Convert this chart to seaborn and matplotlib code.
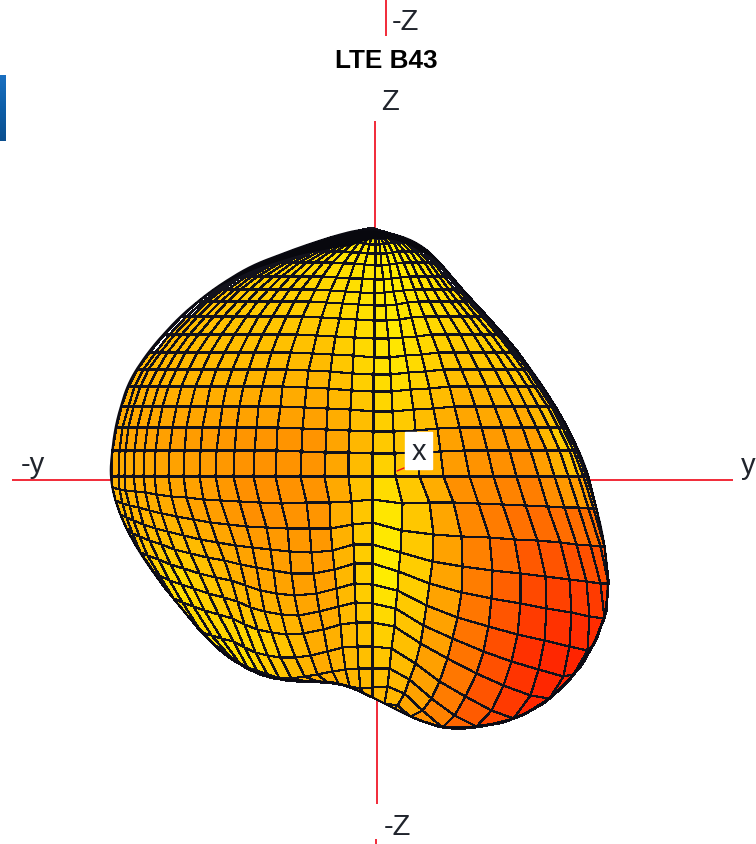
import numpy as np
import matplotlib
matplotlib.use("Agg")
import matplotlib.pyplot as plt
import seaborn as sns

# Surface silhouette (pixels)
outline_x = [375,417,440,460,487,510,533,553,570,587,593,602,608,607,593,573,547,510,473,447,423,400,377,340,300,273,243,217,190,160,137,120,110,110,115,128,150,180,213,250,300,340,367]
outline_y = [230,242,263,288,317,343,373,403,433,470,497,530,573,613,647,677,703,722,728,730,723,713,700,683,682,680,668,650,620,583,550,517,483,470,427,383,350,317,290,267,248,235,229]
# Mesh lines read along the central row and column (pixels from the centre)
meridians_left = [24,48,72,97,119,139,157,174,190,205,219,230,240,249,255,262]
meridians_right = [23,47,71,96,120,143,165,181,195,205,210,213,214.5,215]
rows_up = [26,49,70,90,107,124,142,160,175,187,200,214,225,234,240,248]
rows_down = [21,43,63,81,100,118,136,158,178,196,216,222]
# Dark crowded band along the upper limb
band_x = [215,240,270,300,330,350,372,395,420,440]
band_depth = [0,3,5,7,11,14,9,5,6,0]
# Colour level of the surface (0 yellow, 1 red)
level_x = [110,180,250,320,390,460,530,570,610]
level_y = [230,300,370,440,510,580,650,730]
levels = [
 [.3,.3,.2,.1,.03,.1,.1,.1,.1],
 [.3,.3,.22,.18,.04,.15,.1,.1,.1],
 [.35,.32,.32,.32,.06,.28,.2,.05,.05],
 [.42,.48,.52,.52,.2,.5,.5,.1,.1],
 [.3,.42,.55,.52,.05,.55,.65,.62,.6],
 [.2,.12,.42,.5,.0,.55,.8,.85,.85],
 [.15,.1,.1,.4,.2,.62,.95,1,1],
 [.3,.3,.3,.4,.4,.72,1,1,1],
]
cmap_colors = ["#fff200","#ffc400","#ff9a00","#ff5a00","#ff2400"]

cx, cy = 372.0, 477.0
spine_u = 0.107

sns.set_theme(style="white")
plt.rcParams['font.family'] = ['Liberation Sans', 'DejaVu Sans']
cmap = sns.blend_palette(cmap_colors, as_cmap=True)

fig = plt.figure(figsize=(7.56, 8.45), dpi=100)
ax = fig.add_axes([0, 0, 1, 1])
ax.set_xlim(0, 756)
ax.set_ylim(845, 0)
ax.axis("off")

# red axes
red = "#f01020"
for xs, ys in [((386,386),(0,37)), ((375,375),(122,240)), ((377,377),(695,805)),
               ((12,115),(481,481)), ((580,733),(481,481)), ((376,376),(840,845))]:
    ax.plot(xs, ys, color=red, lw=1.25, zorder=1, solid_capstyle="butt")

# smooth the silhouette for drawing and for the limits
px0 = np.array(outline_x+outline_x[:1], float)
py0 = np.array(outline_y+outline_y[:1], float)
arc = np.r_[0, np.cumsum(np.hypot(np.diff(px0), np.diff(py0)))]
sn = np.linspace(0, arc[-1], 721)[:-1]
dx = np.interp(sn, arc, px0); dy = np.interp(sn, arc, py0)
win = 17
ker = np.ones(win)/win
def circ(v):
    return np.convolve(np.r_[v[-win:], v, v[:win]], ker, mode="same")[win:-win]
ox_all, oy_all = circ(dx), circ(dy)

ox, oy = ox_all-cx, oy_all-cy
oth = np.arctan2(oy, ox)
orr = np.hypot(ox, oy)
order = np.argsort(oth)
oth, orr = oth[order], orr[order]
def radius(t):
    return np.interp(t, oth, orr, period=2*np.pi)

# silhouette limits per scan line for the upper half
up_r = (oy_all <= cy+1) & (ox_all >= cx)
up_l = (oy_all <= cy+7) & (ox_all < cx)
ri = np.argsort(oy_all[up_r]); li = np.argsort(oy_all[up_l])
def lim_r(y):
    return np.interp(y, oy_all[up_r][ri], ox_all[up_r][ri])
def lim_l(y):
    return np.interp(y, oy_all[up_l][li], ox_all[up_l][li])

a = np.r_[-np.array(meridians_left[::-1])/262.0, 0, np.array(meridians_right)/215.0]
b = np.r_[-np.array(rows_up[::-1])/248.0, 0, np.array(rows_down)/222.0]
A, B = np.meshgrid(a, b)
U = A*np.sqrt(np.clip(1-(0.9*B)**2, 0, 1))
V = B.copy()
rho0 = np.minimum(np.hypot(U, V), 1.0)

# the lower half dips toward the lobe on both sides of the spine
d = U - spine_u
t = np.abs(d)
g = np.where(d > 0, 0.58*t, 0.9*t*(1-1.4*t))
V2 = np.where(V > 0, V + V*g, V)
rho2 = np.hypot(U, V2)
# on the left the limb keeps its place
shrink = (V > 0) & (g < 0) & (rho2 > 1e-6)
U2 = np.where(shrink, U*rho0/np.maximum(rho2, 1e-6), U)
V2 = np.where(shrink, V2*rho0/np.maximum(rho2, 1e-6), V2)

rho = np.hypot(U2, V2)
hidden = rho >= 1
s = np.where(hidden, 1/np.maximum(rho, 1e-6), 1)
U2, V2 = U2*s, V2*s
R = radius(np.arctan2(V2, U2))
PX = cx + R*U2
PY = cy + R*V2

# upper half: flat scan lines between the two limbs, sagging a little at the ridge
Yup = cy + B*248.0
spine = cx + 3*np.abs(B)
Xup = np.where(A >= 0, spine + A*(lim_r(Yup)-spine), spine + (-A)*(lim_l(Yup)-spine))
sag = 7*np.clip(1-np.abs(A-0.05)/0.4, 0, 1)*np.sqrt(np.abs(B))*np.clip(1.15-np.abs(B), 0, 1)/0.6
Yup = Yup + sag
PX = np.where(B < 0, Xup, PX)
PY = np.where(B < 0, Yup, PY)

# colour per cell
XC = (PX[:-1,:-1]+PX[1:,:-1]+PX[:-1,1:]+PX[1:,1:])/4
YC = (PY[:-1,:-1]+PY[1:,:-1]+PY[:-1,1:]+PY[1:,1:])/4
L = np.array(levels)
def bilinear(x, y):
    xi = np.interp(x, level_x, np.arange(len(level_x)))
    yi = np.interp(y, level_y, np.arange(len(level_y)))
    i0 = np.clip(np.floor(yi).astype(int), 0, L.shape[0]-2)
    j0 = np.clip(np.floor(xi).astype(int), 0, L.shape[1]-2)
    fy, fx = yi-i0, xi-j0
    return (L[i0,j0]*(1-fx)*(1-fy)+L[i0,j0+1]*fx*(1-fy)+L[i0+1,j0]*(1-fx)*fy+L[i0+1,j0+1]*fx*fy)
C = bilinear(XC, YC)
mask = hidden[:-1,:-1] & hidden[1:,:-1] & hidden[:-1,1:] & hidden[1:,1:]
ax.pcolormesh(PX, PY, np.ma.array(C, mask=mask), cmap=cmap, vmin=0, vmax=1,
              edgecolors="#12121c", linewidth=0.85, zorder=2, shading="flat")
ax.plot(np.r_[ox_all, ox_all[:1]], np.r_[oy_all, oy_all[:1]], color="#0a0a12", lw=1.3, zorder=3)

# crowded dark band on the top limb
sel = oy_all < 300
top_i = np.argsort(ox_all[sel])
bx = np.linspace(band_x[0], band_x[-1], 120)
by = np.interp(bx, ox_all[sel][top_i], oy_all[sel][top_i])
ax.fill_between(bx, by, by+np.interp(bx, band_x, band_depth), color="#08080e", lw=0, zorder=3)

# blue sliver at the left edge
ax.imshow(np.linspace(0,1,30).reshape(-1,1), extent=(0,6,142,76), aspect="auto",
          cmap=sns.blend_palette(["#1a6fc0","#0d5ea8","#0b4f8f"], as_cmap=True), zorder=1)
ax.set_xlim(0, 756); ax.set_ylim(845, 0)

txt = dict(color="#20242c", fontsize=21, ha="center", va="center", zorder=5)
ax.text(405, 22, "-Z", **txt)
ax.text(390, 102, "Z", **txt)
ax.text(397, 827, "-Z", **txt)
ax.text(33, 465, "-y", **txt)
ax.text(748, 466, "y", **txt)
ax.text(386, 61, "LTE B43", fontsize=18.8, fontweight="bold", color="black", ha="center", va="center", zorder=5)
ax.add_patch(plt.Rectangle((405,433), 27, 37, color="white", zorder=4))
ax.text(418.5, 452, "x", **txt)
ax.plot((397,404),(472,469), color=red, lw=1, zorder=5)

fig.savefig("out.png", dpi=100)
